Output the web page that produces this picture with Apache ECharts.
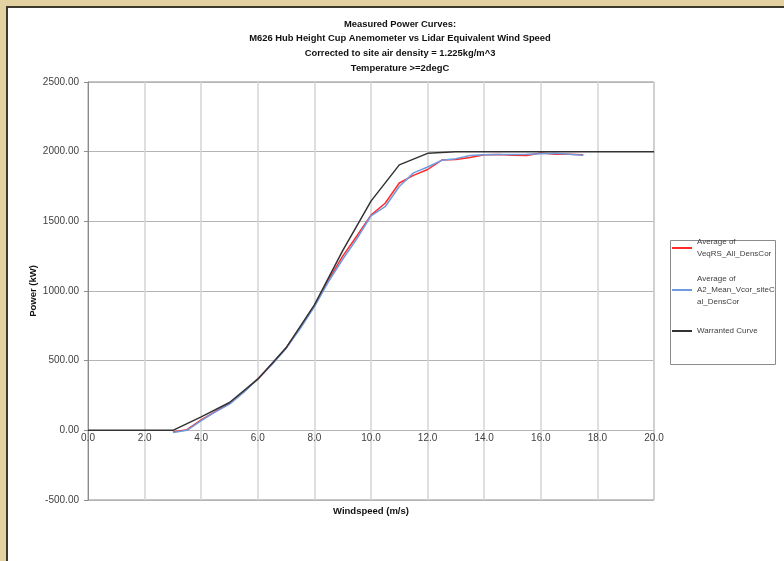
<!DOCTYPE html>
<html>
<head>
<meta charset="utf-8">
<script src="https://cdn.jsdelivr.net/npm/echarts@6.0.0/dist/echarts.min.js"></script>
<style>
  html, body { margin: 0; padding: 0; background: #e3d1a2; }
  #frame {
    position: absolute; left: 6px; top: 6px; width: 778px; height: 555px;
    box-sizing: border-box; background: #fff;
    border-left: 2px solid #3d382c; border-top: 2px solid #3d382c;
  }
  #chart { position: absolute; left: 0; top: 0; width: 784px; height: 561px; }
</style>
</head>
<body>
<div id="frame"></div>
<div id="chart"></div>
<script>
// measured bins (m/s)
const binSpeeds = [3.0, 3.5, 4.0, 4.5, 5.0, 5.5, 6.0, 6.5, 7.0, 7.5, 8.0, 8.5, 9.0, 9.5, 10.0,
  10.5, 11.0, 11.5, 12.0, 12.5, 13.0, 13.5, 14.0, 14.5, 15.0, 15.5, 16.0, 16.5, 17.0, 17.5];
// Average of VeqRS_All_DensCor (kW)
const veqPower = [-12, 5, 75, 135, 192, 275, 370, 475, 592, 738, 892, 1080, 1250, 1395, 1545,
  1630, 1775, 1830, 1872, 1940, 1944, 1958, 1978, 1980, 1975, 1972, 1990, 1982, 1982, 1978];
// Average of A2_Mean_Vcor_siteCal_DensCor (kW)
const a2Power = [-15, 0, 70, 132, 188, 272, 368, 472, 588, 730, 888, 1068, 1228, 1375, 1540,
  1605, 1750, 1848, 1890, 1938, 1950, 1972, 1978, 1980, 1980, 1982, 1985, 1988, 1982, 1975];
// warranted curve
const warrSpeeds = [0, 1, 2, 3, 4, 5, 6, 7, 8, 9, 10, 11, 12, 13, 14, 15, 16, 17, 18, 19, 20];
const warrPower = [0, 0, 0, 0, 97, 200, 367, 592, 900, 1290, 1645, 1905, 1988, 2000, 2000, 2000,
  2000, 2000, 2000, 2000, 2000];

const seriesNames = ['Average of VeqRS_All_DensCor', 'Average of A2_Mean_Vcor_siteCal_DensCor', 'Warranted Curve'];
// how the legend wraps each name
const legendLines = [
  ['Average of', 'VeqRS_All_DensCor'],
  ['Average of', 'A2_Mean_Vcor_siteC', 'al_DensCor'],
  ['Warranted Curve']
];
const seriesColors = ['#ff2a2a', '#6f9be0', '#333333'];

const FONT = "'Liberation Sans', Arial, sans-serif";
const LH = 11.5;
const legendIconY = [248, 290, 331];

const pairs = (xs, ys) => xs.map((x, i) => [x, ys[i]]);

const chart = echarts.init(document.getElementById('chart'));

// one legend per entry so the icon sits on the first text line
const legends = legendLines.map((lines, i) => {
  const n = lines.length;
  return {
    data: [seriesNames[i]],
    left: 672,
    top: legendIconY[i] - ((2 * n - 1) * LH) / 2,
    padding: 0,
    icon: 'rect',
    itemWidth: 20,
    itemHeight: 2,
    selectedMode: false,
    formatter: () => lines.join('\n'),
    textStyle: {
      fontFamily: FONT,
      fontSize: 8,
      color: '#404040',
      lineHeight: LH,
      padding: [LH * (n - 1), 0, 0, 0]
    }
  };
});

chart.setOption({
  animation: false,
  title: {
    text: 'Measured Power Curves:\nM626 Hub Height Cup Anemometer vs Lidar Equivalent Wind Speed\nCorrected to site air density = 1.225kg/m^3\nTemperature >=2degC',
    left: 400,
    top: 17,
    textAlign: 'center',
    padding: 0,
    textStyle: {
      fontFamily: FONT,
      fontSize: 9.4,
      fontWeight: 'bold',
      color: '#111',
      lineHeight: 14.6
    }
  },
  graphic: [
    {
      type: 'rect',
      z: 0,
      shape: { x: 670.5, y: 240.5, width: 105, height: 124 },
      style: { fill: '#fff', stroke: '#8c8c8c', lineWidth: 1 }
    }
  ],
  legend: legends,
  grid: {
    left: 88,
    right: 130,
    top: 82,
    bottom: 61,
    outerBoundsMode: 'none',
    show: true,
    borderColor: '#8c8c8c',
    borderWidth: 1
  },
  xAxis: {
    type: 'value',
    min: 0,
    max: 20,
    interval: 2,
    name: 'Windspeed (m/s)',
    nameLocation: 'middle',
    nameGap: 6,
    nameMoveOverlap: false,
    nameTextStyle: { fontFamily: FONT, fontSize: 9.5, fontWeight: 'bold', color: '#111' },
    axisLine: { onZero: false, show: false },
    axisTick: { show: false },
    // labels sit just under the zero line, as in the source chart
    axisLabel: {
      margin: -67,
      fontFamily: FONT,
      fontSize: 10,
      color: '#404040',
      formatter: (v) => v.toFixed(1)
    },
    splitLine: { lineStyle: { color: '#d4d4d4', width: 1.5 } }
  },
  yAxis: {
    type: 'value',
    min: -500,
    max: 2500,
    interval: 500,
    name: 'Power (kW)',
    nameLocation: 'middle',
    nameRotate: 90,
    nameGap: 50,
    nameMoveOverlap: false,
    nameTextStyle: { fontFamily: FONT, fontSize: 9.5, fontWeight: 'bold', color: '#111' },
    axisLine: { show: true, lineStyle: { color: '#8c8c8c' } },
    axisTick: { show: true, length: 4, lineStyle: { color: '#8c8c8c' } },
    axisLabel: {
      margin: 9,
      fontFamily: FONT,
      fontSize: 10,
      color: '#404040',
      formatter: (v) => v.toFixed(2)
    },
    splitLine: { lineStyle: { color: '#b4b4b4', width: 1 } }
  },
  series: [
    {
      name: seriesNames[0],
      type: 'line',
      data: pairs(binSpeeds, veqPower),
      showSymbol: false,
      lineStyle: { color: seriesColors[0], width: 1.5 },
      itemStyle: { color: seriesColors[0] }
    },
    {
      name: seriesNames[1],
      type: 'line',
      data: pairs(binSpeeds, a2Power),
      showSymbol: false,
      lineStyle: { color: seriesColors[1], width: 1.5 },
      itemStyle: { color: seriesColors[1] }
    },
    {
      name: seriesNames[2],
      type: 'line',
      data: pairs(warrSpeeds, warrPower),
      showSymbol: false,
      lineStyle: { color: seriesColors[2], width: 1.5 },
      itemStyle: { color: seriesColors[2] }
    }
  ]
});
</script>
</body>
</html>
